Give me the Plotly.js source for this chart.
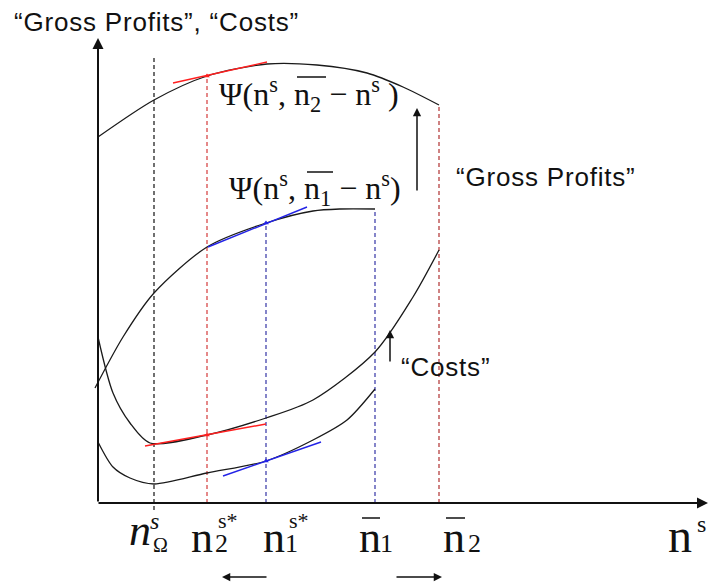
<!DOCTYPE html>
<html>
<head>
<meta charset="utf-8">
<script src="https://cdn.plot.ly/plotly-3.0.1.min.js"></script>
<style>
html,body{margin:0;padding:0;background:#fff;}
#chart{width:709px;height:585px;}
</style>
</head>
<body>
<div id="chart"></div>
<script>
// Key positions along the n^s axis (origin at the axes corner)
const nOmega = 57;
const n2Star = 110;
const n1Star = 169;
const n1Bar = 278;
const n2Bar = 342;

// Gross profits  Ψ(n^s, n̄2 − n^s)
const profit2X = [1, 57, 110, 170, 220, 270, 306, 342];
const profit2Y = [366, 403, 427, 439, 438, 430, 416, 398];
// Gross profits  Ψ(n^s, n̄1 − n^s)
const profit1X = [-2, 26, 57, 110, 169, 216, 243, 278];
const profit1Y = [115, 166, 210, 256, 280, 292, 294, 294];
// Costs, upper curve (runs to n̄2)
const cost2X = [1, 16, 33, 53, 110, 169, 216, 278, 316, 342];
const cost2Y = [166, 110, 80, 60, 68, 85, 103, 151, 206, 253];
// Costs, lower curve (runs to n̄1)
const cost1X = [1, 16, 33, 57, 110, 169, 216, 250, 278];
const cost1Y = [61, 36, 25, 19, 30, 42, 63, 83, 114];

// Tangent segments at the optimal n^s
const tanProfit2X = [76, 170], tanProfit2Y = [420, 441];
const tanProfit1X = [111, 210], tanProfit1Y = [256, 296];
const tanCost2X = [48, 169], tanCost2Y = [57, 79];
const tanCost1X = [126, 224], tanCost1Y = [27, 61];

const RED = '#d43a3a', RED_DARK = '#b03030', BLUE = '#3434a6';
const RED_TAN = '#ff1f1f', BLUE_TAN = '#2323e6';
const INK = '#111';

function valueAt(xs, ys, x) { return ys[xs.indexOf(x)]; }

const curve = (xs, ys) => ({
  x: xs, y: ys, mode: 'lines', type: 'scatter',
  line: {color: '#1a1a1a', width: 1.3, shape: 'spline', smoothing: 0.8},
  hoverinfo: 'skip'
});
const seg = (xs, ys, color) => ({
  x: xs, y: ys, mode: 'lines', type: 'scatter',
  line: {color: color, width: 1.4}, hoverinfo: 'skip'
});
const guide = (x, top, color, bottom) => ({
  x: [x, x], y: [bottom === undefined ? 0 : bottom, top], mode: 'lines', type: 'scatter',
  line: {color: color, width: 1.2, dash: '4px,3px'}, hoverinfo: 'skip'
});
const dot = (x, y, color) => ({
  x: [x], y: [y], mode: 'markers', type: 'scatter',
  marker: {color: color, size: 5, symbol: 'triangle-up'}, hoverinfo: 'skip'
});

const traces = [
  guide(nOmega, 448, INK, -7),
  guide(n2Star, valueAt(profit2X, profit2Y, n2Star), RED),
  guide(n1Star, valueAt(profit1X, profit1Y, n1Star), BLUE),
  guide(n1Bar, valueAt(profit1X, profit1Y, n1Bar), BLUE),
  guide(n2Bar, valueAt(profit2X, profit2Y, n2Bar), RED_DARK),
  curve(profit2X, profit2Y),
  curve(profit1X, profit1Y),
  curve(cost2X, cost2Y),
  curve(cost1X, cost1Y),
  seg(tanProfit2X, tanProfit2Y, RED_TAN),
  seg(tanProfit1X, tanProfit1Y, BLUE_TAN),
  seg(tanCost2X, tanCost2Y, RED_TAN),
  seg(tanCost1X, tanCost1Y, BLUE_TAN),
  dot(n2Star, valueAt(profit2X, profit2Y, n2Star), RED_TAN),
  dot(n1Star, valueAt(profit1X, profit1Y, n1Star), BLUE_TAN),
  dot(n2Star, valueAt(cost2X, cost2Y, n2Star), RED_TAN),
  dot(n1Star, valueAt(cost1X, cost1Y, n1Star), BLUE_TAN)
];

const SANS = 'Liberation Sans, Arial, sans-serif';
const SERIF = 'Liberation Serif, Times New Roman, serif';

// arrow from tail (tx, ty) to head (hx, hy)
function arrow(tx, ty, hx, hy, w) {
  return {x: hx, y: hy, ax: tx, ay: ty, xref: 'x', yref: 'y', axref: 'x', ayref: 'y',
    text: '', showarrow: true, arrowhead: 2, arrowsize: 1.1, arrowwidth: w,
    arrowcolor: INK, standoff: 0, startstandoff: 0};
}
function txt(x, y, text, size, family, anchor) {
  return {x: x, y: y, xref: 'x', yref: 'y', text: text, showarrow: false,
    xanchor: anchor || 'center', yanchor: 'middle',
    font: {family: family || SERIF, size: size, color: INK}};
}
const spaced = s => '<span style="letter-spacing:0.8px">' + s + '</span>';

const annotations = [
  // axes
  arrow(1, 0, 1, 465, 2),
  arrow(0, 0, 611, 0, 2),
  // shifts of the curves and of the optimal n^s
  arrow(320, 311, 320, 395, 1.5),
  arrow(293, 140, 293, 173, 1.5),
  arrow(n1Star + 2, -74, n2Star + 15, -74, 1.5),
  arrow(n1Bar + 20, -74, n2Bar + 3, -74, 1.5),
  // text labels
  txt(-85, 481, spaced('\u201CGross Profits\u201D, \u201CCosts\u201D'), 26, SANS, 'left'),
  txt(357, 326, spaced('\u201CGross Profits\u201D'), 26, SANS, 'left'),
  txt(302, 136, spaced('\u201CCosts\u201D'), 26, SANS, 'left'),
  txt(120, 409, '\u03A8(n<sup>s</sup>, n<sub>2</sub> \u2212 n<sup>s</sup> )', 32, SERIF, 'left'),
  txt(130, 315, '\u03A8(n<sup>s</sup>, n<sub>1</sub> \u2212 n<sup>s</sup>)', 32, SERIF, 'left'),
  // horizontal axis labels
  txt(nOmega - 14, -27, '<i>n</i>', 44),
  txt(nOmega, -18, '<i>s</i>', 24),
  txt(nOmega + 6, -42, '\u03A9', 20),
  txt(n2Star - 5, -34, 'n', 44),
  txt(n2Star + 14, -40, '2', 26),
  txt(n2Star + 21, -17, 's*', 22),
  txt(n1Star + 8, -34, 'n', 44),
  txt(n1Star + 25, -40, '1', 26),
  txt(n1Star + 33, -17, 's*', 22),
  txt(n1Bar - 5, -34, 'n', 44),
  txt(n1Bar + 11, -40, '1', 26),
  txt(n2Bar + 15, -34, 'n', 44),
  txt(n2Bar + 35, -40, '2', 26),
  txt(583, -32, 'n', 48),
  txt(604, -21, 's', 24)
];

// bars over n̄1 and n̄2
const bar = (x0, x1, y) => ({type: 'line', xref: 'x', yref: 'y', x0: x0, x1: x1, y0: y, y1: y,
  line: {color: INK, width: 1.5}});
const shapes = [
  bar(n1Bar - 13, n1Bar + 5, -15),
  bar(n2Bar + 7, n2Bar + 26, -15),
  bar(200, 229, 426),
  bar(210, 236, 331)
];

const layout = {
  width: 709, height: 585,
  margin: {l: 0, r: 0, t: 0, b: 0},
  paper_bgcolor: '#fff', plot_bgcolor: '#fff',
  showlegend: false,
  xaxis: {range: [-97, 612], visible: false, fixedrange: true},
  yaxis: {range: [-82, 503], visible: false, fixedrange: true},
  annotations: annotations,
  shapes: shapes
};

Plotly.newPlot('chart', traces, layout, {displayModeBar: false, staticPlot: true});
</script>
</body>
</html>
